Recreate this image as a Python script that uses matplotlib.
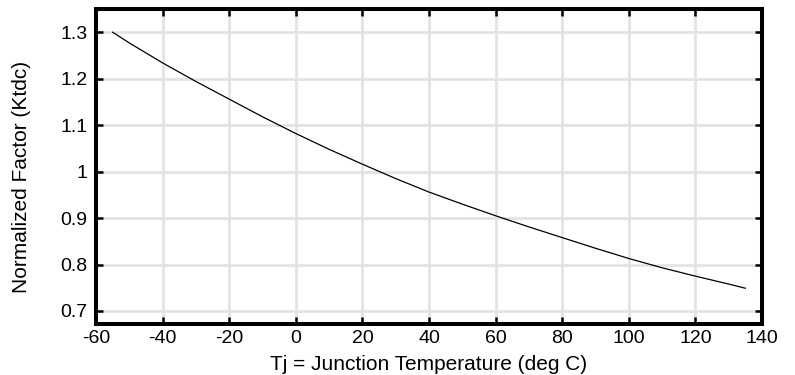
import matplotlib
matplotlib.use("Agg")
import matplotlib.pyplot as plt

temps = [-55, -50, -40, -30, -20, -10, 0, 10, 20, 30, 40, 50, 60, 70, 80, 90, 100, 110, 120, 130, 135]
ktdc = [1.300, 1.277, 1.234, 1.194, 1.156, 1.118, 1.082, 1.048, 1.016, 0.985, 0.956, 0.930, 0.905, 0.881, 0.858, 0.835, 0.813, 0.793, 0.775, 0.758, 0.749]
xticks = [-60, -40, -20, 0, 20, 40, 60, 80, 100, 120, 140]
yticks = [0.7, 0.8, 0.9, 1.0, 1.1, 1.2, 1.3]
ytick_labels = ["0.7", "0.8", "0.9", "1", "1.1", "1.2", "1.3"]

plt.rcParams['font.family'] = ['Liberation Sans', 'DejaVu Sans']
plt.rcParams['axes.unicode_minus'] = False

fig = plt.figure(figsize=(7.95, 3.75), dpi=100)
ax = fig.add_axes([96/795, 1-324/375, (762-96)/795, (324-9)/375])

ax.plot(temps, ktdc, color='black', linewidth=0.9, zorder=3)
ax.set_xlim(-60, 140)
ax.set_ylim(0.672, 1.35)
ax.set_xticks(xticks)
ax.set_yticks(yticks)
ax.set_yticklabels(ytick_labels)
ax.grid(True, color='#e3e3e3', linewidth=2.0, zorder=0)
ax.set_axisbelow(True)
for s in ax.spines.values():
    s.set_linewidth(2.9)
    s.set_color('black')
ax.tick_params(direction='in', length=5, width=1.8, top=True, right=True,
               labelsize=14, colors='black')
ax.tick_params(axis='x', pad=4)
ax.tick_params(axis='y', pad=6)
ax.set_xlabel("Tj = Junction Temperature (deg C)", fontsize=15)
ax.set_ylabel("Normalized Factor (Ktdc)", fontsize=15)
ax.xaxis.set_label_coords(0.5, -0.1)
ax.yaxis.set_label_coords(-0.097, 0.468)

fig.savefig("out.png", dpi=100)
